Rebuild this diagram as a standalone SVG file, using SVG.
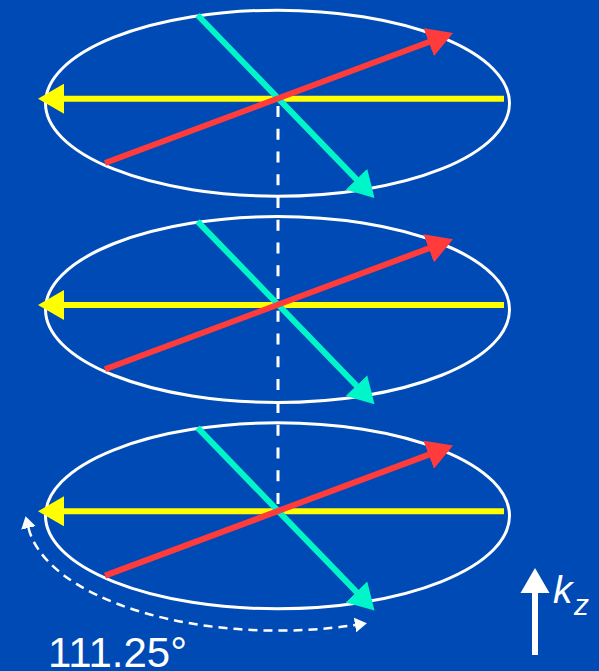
<svg xmlns="http://www.w3.org/2000/svg" width="599" height="671" viewBox="0 0 599 671">
  <style>
    .ring { fill: none; stroke: #ffffff; stroke-width: 3; }
    .yel { stroke: #ffff00; stroke-width: 6; fill: none; }
    .red { stroke: #ff3b3b; stroke-width: 6; fill: none; }
    .teal { stroke: #00f5c8; stroke-width: 6; fill: none; }
    .dash { stroke: #ffffff; stroke-width: 3; fill: none; stroke-dasharray: 11 11.76; }
    .arc { stroke: #ffffff; stroke-width: 2.5; fill: none; stroke-dasharray: 9 6; }
    .lbl { fill: #ffffff; font-family: "Liberation Sans", Arial, sans-serif; }
  </style>
  <defs>
    <marker id="hY" markerUnits="userSpaceOnUse" markerWidth="26" markerHeight="30" refX="6" refY="15" orient="auto">
      <path d="M0,0 L26,15 L0,30 z" fill="#ffff00"/>
    </marker>
    <marker id="hR" markerUnits="userSpaceOnUse" markerWidth="26" markerHeight="30" refX="6" refY="15" orient="auto">
      <path d="M0,0 L26,15 L0,30 z" fill="#ff3b3b"/>
    </marker>
    <marker id="hT" markerUnits="userSpaceOnUse" markerWidth="26" markerHeight="30" refX="6" refY="15" orient="auto">
      <path d="M0,0 L26,15 L0,30 z" fill="#00f5c8"/>
    </marker>
    <marker id="hW" markerUnits="userSpaceOnUse" markerWidth="12" markerHeight="15" refX="0" refY="7.5" orient="auto-start-reverse">
      <path d="M0,0 L12,7.5 L0,15 z" fill="#ffffff"/>
    </marker>
  </defs>
  <rect x="0" y="0" width="599" height="671" fill="#004ab5"/>

  <g id="connectors">
    <line class="dash" x1="278" y1="106" x2="278" y2="505"/>
    <path class="arc" d="M28.5,528 A251,116 0 0 0 355,625" marker-start="url(#hW)" marker-end="url(#hW)"/>
  </g>

  <g id="plane-top">
    <ellipse class="ring" cx="277.5" cy="103.2" rx="232" ry="93"/>
    <line class="yel" x1="504" y1="98.7" x2="58" y2="98.7" marker-end="url(#hY)"/>
    <line class="teal" x1="197.5" y1="15" x2="360.6" y2="183.6" marker-end="url(#hT)"/>
    <line class="red" x1="105" y1="163" x2="434.3" y2="40" marker-end="url(#hR)"/>
  </g>

  <g id="plane-middle" transform="translate(0,206.3)">
    <ellipse class="ring" cx="277.5" cy="103.2" rx="232" ry="93"/>
    <line class="yel" x1="504" y1="98.7" x2="58" y2="98.7" marker-end="url(#hY)"/>
    <line class="teal" x1="197.5" y1="15" x2="360.6" y2="183.6" marker-end="url(#hT)"/>
    <line class="red" x1="105" y1="163" x2="434.3" y2="40" marker-end="url(#hR)"/>
  </g>

  <g id="plane-bottom" transform="translate(0,412.6)">
    <ellipse class="ring" cx="277.5" cy="103.2" rx="232" ry="93"/>
    <line class="yel" x1="504" y1="98.7" x2="58" y2="98.7" marker-end="url(#hY)"/>
    <line class="teal" x1="197.5" y1="15" x2="360.6" y2="183.6" marker-end="url(#hT)"/>
    <line class="red" x1="105" y1="163" x2="434.3" y2="40" marker-end="url(#hR)"/>
  </g>

  <g id="angle-label">
    <text class="lbl" x="48" y="667" font-size="42">111.25°</text>
  </g>

  <g id="kz-axis">
    <line x1="535" y1="655" x2="535" y2="590" stroke="#ffffff" stroke-width="6"/>
    <polygon points="535,568 549.5,593 520.5,593" fill="#ffffff"/>
    <text class="lbl" x="553" y="603.3" font-size="39" font-style="italic">k</text>
    <text class="lbl" x="574" y="615" font-size="30" font-style="italic">z</text>
  </g>
</svg>
